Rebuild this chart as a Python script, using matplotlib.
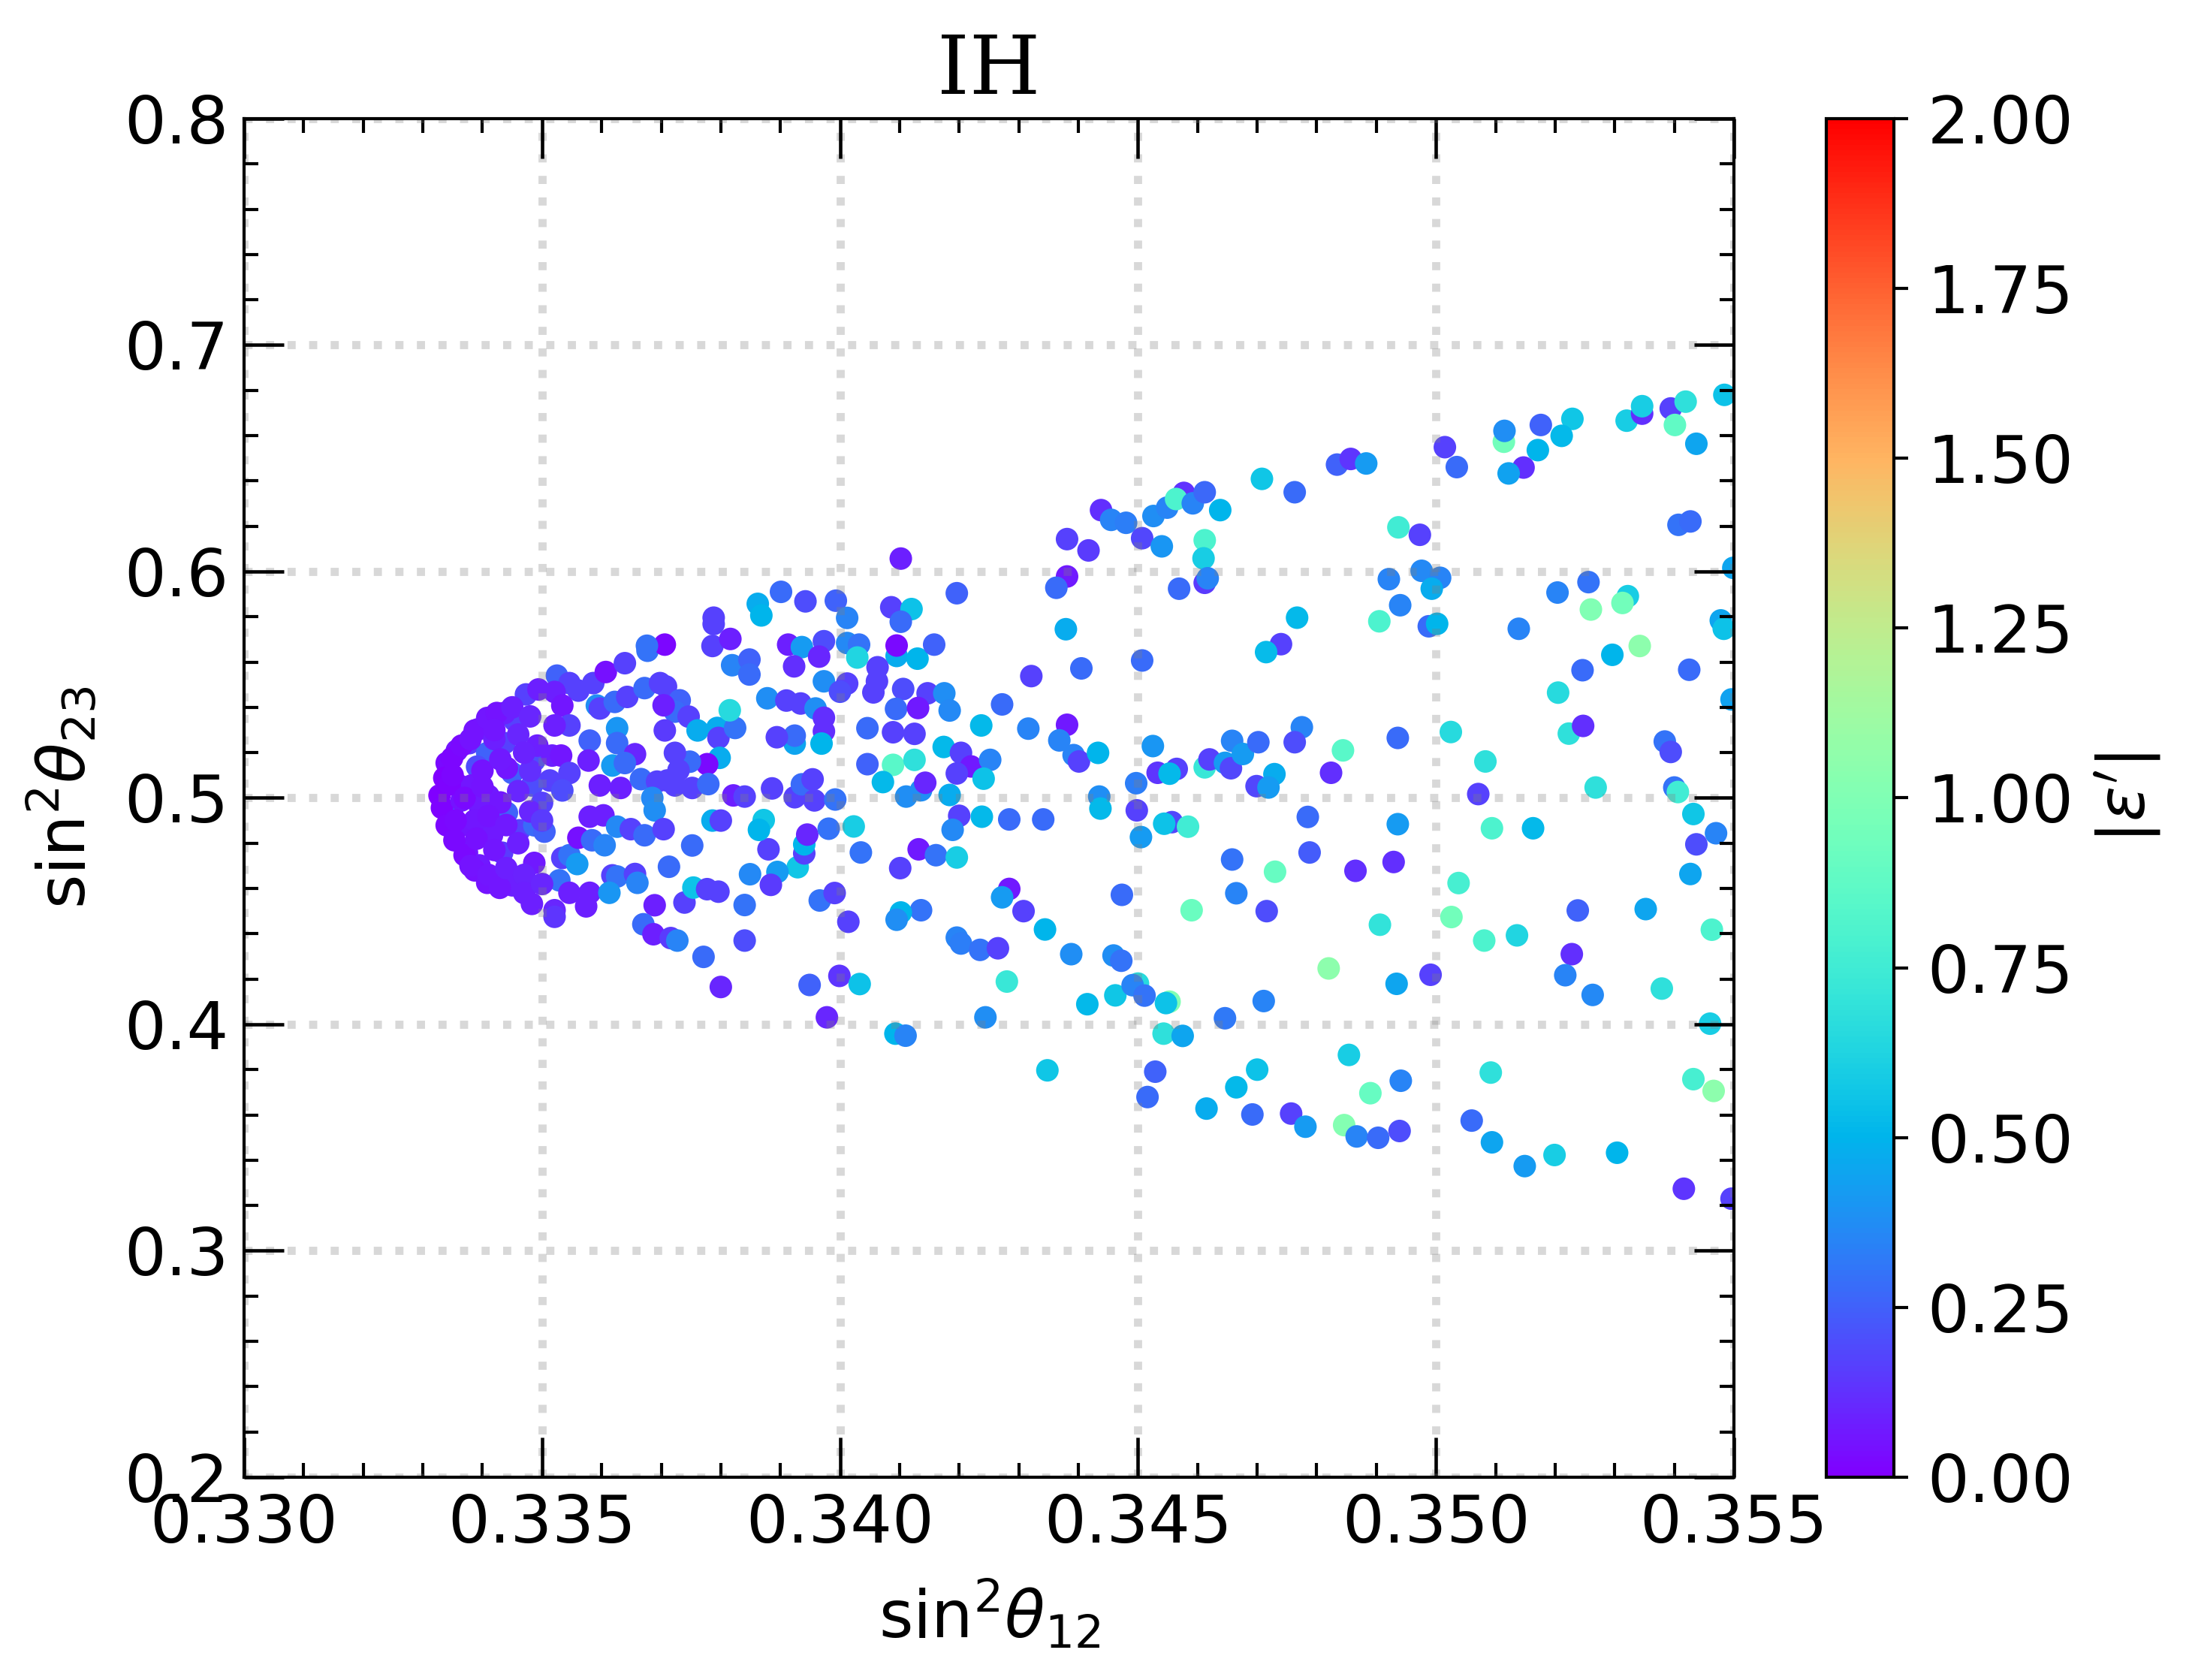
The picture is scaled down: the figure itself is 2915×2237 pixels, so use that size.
import matplotlib
matplotlib.use("Agg")
import matplotlib.pyplot as plt
from matplotlib.ticker import MultipleLocator, FormatStrFormatter

# (sin^2 theta12, sin^2 theta23, |eps'|), grouped by region

# dense cluster near the vertex
cluster = [
    (0.33525, 0.5540, 0.25), (0.33546, 0.5507, 0.17), (0.33586, 0.5507, 0.17), (0.33607, 0.5556, 0.04),
    (0.33639, 0.5595, 0.17), (0.33677, 0.5650, 0.30), (0.33473, 0.5457, 0.17), (0.33494, 0.5479, 0.08),
    (0.33521, 0.5468, 0.08), (0.33561, 0.5474, 0.17), (0.33592, 0.5408, 0.38), (0.33597, 0.5395, 0.17),
    (0.33622, 0.5424, 0.28), (0.33643, 0.5446, 0.17), (0.33672, 0.5485, 0.28), (0.33698, 0.5507, 0.17),
    (0.33534, 0.5408, 0.06), (0.33546, 0.5320, 0.17), (0.33521, 0.5320, 0.08), (0.33454, 0.5342, 0.17),
    (0.33420, 0.5342, 0.07), (0.33437, 0.5375, 0.08), (0.33393, 0.5303, 0.08), (0.33378, 0.5242, 0.15),
    (0.33357, 0.5209, 0.06), (0.33340, 0.5154, 0.03), (0.33336, 0.5088, 0.00), (0.33408, 0.5198, 0.25),
    (0.33391, 0.5138, 0.20), (0.33437, 0.5242, 0.17), (0.33450, 0.5110, 0.25), (0.33441, 0.5132, 0.06),
    (0.33487, 0.5165, 0.20), (0.33492, 0.5231, 0.08), (0.33517, 0.5187, 0.08), (0.33532, 0.5187, 0.06),
    (0.33580, 0.5253, 0.25), (0.33626, 0.5308, 0.40), (0.33626, 0.5242, 0.28), (0.33578, 0.5165, 0.08),
    (0.33618, 0.5143, 0.42), (0.33656, 0.5193, 0.10), (0.33639, 0.5154, 0.28), (0.33546, 0.5110, 0.17),
    (0.33513, 0.5077, 0.17), (0.33534, 0.5033, 0.20), (0.33483, 0.5055, 0.20), (0.33500, 0.4978, 0.17),
    (0.33597, 0.5055, 0.08), (0.33632, 0.5044, 0.08), (0.33666, 0.5083, 0.28), (0.33693, 0.5072, 0.17),
    (0.33685, 0.5000, 0.36), (0.33689, 0.4945, 0.38), (0.33349, 0.4945, 0.20), (0.33395, 0.4967, 0.07),
    (0.33441, 0.4934, 0.25), (0.33462, 0.4857, 0.17), (0.33487, 0.4879, 0.28), (0.33504, 0.4851, 0.25),
    (0.33366, 0.4879, 0.05), (0.33395, 0.4879, 0.06), (0.33416, 0.4835, 0.07), (0.33374, 0.4758, 0.06),
    (0.33395, 0.4702, 0.07), (0.33433, 0.4758, 0.15), (0.33424, 0.4636, 0.07), (0.33450, 0.4614, 0.08),
    (0.33487, 0.4713, 0.07), (0.33483, 0.4532, 0.08), (0.33521, 0.4504, 0.10), (0.33534, 0.4735, 0.17),
    (0.33546, 0.4747, 0.30), (0.33559, 0.4708, 0.42), (0.33529, 0.4636, 0.30), (0.33561, 0.4824, 0.04),
    (0.33580, 0.4917, 0.08), (0.33603, 0.4923, 0.08), (0.33584, 0.4813, 0.28), (0.33605, 0.4791, 0.35),
    (0.33626, 0.4873, 0.36), (0.33649, 0.4862, 0.17), (0.33672, 0.4835, 0.28), (0.33546, 0.4581, 0.08),
    (0.33580, 0.4581, 0.08), (0.33574, 0.4521, 0.08), (0.33618, 0.4658, 0.17), (0.33626, 0.4653, 0.30),
    (0.33656, 0.4664, 0.17), (0.33660, 0.4625, 0.35), (0.33613, 0.4581, 0.40), (0.33689, 0.4526, 0.08),
    (0.33328, 0.5011, 0.00), (0.33332, 0.4956, 0.01), (0.33340, 0.4879, 0.02), (0.33353, 0.4813, 0.03),
    (0.33370, 0.4747, 0.03), (0.33387, 0.4680, 0.04), (0.33408, 0.4625, 0.05), (0.33429, 0.4603, 0.06),
    (0.33349, 0.5176, 0.02), (0.33365, 0.5231, 0.03), (0.33387, 0.5298, 0.05), (0.33408, 0.5353, 0.06),
    (0.33424, 0.5375, 0.05), (0.33361, 0.5055, 0.04), (0.33365, 0.4989, 0.05), (0.33382, 0.5055, 0.06),
    (0.33387, 0.4901, 0.06), (0.33345, 0.5060, 0.01), (0.33410, 0.5010, 0.07), (0.33420, 0.5260, 0.08),
    (0.33370, 0.5000, 0.03), (0.33400, 0.5050, 0.05), (0.33430, 0.4980, 0.06), (0.33460, 0.5030, 0.10),
    (0.33410, 0.4920, 0.05), (0.33440, 0.4880, 0.07), (0.33390, 0.4820, 0.04), (0.33420, 0.4770, 0.06),
    (0.33460, 0.4800, 0.08), (0.33400, 0.5120, 0.05), (0.33430, 0.5170, 0.07), (0.33460, 0.5280, 0.10),
    (0.33480, 0.5120, 0.12), (0.33480, 0.4940, 0.10), (0.33380, 0.4700, 0.05), (0.33410, 0.4660, 0.06),
    (0.33440, 0.4690, 0.08), (0.33470, 0.4660, 0.09), (0.33470, 0.4580, 0.08), (0.33500, 0.4620, 0.10),
    (0.33380, 0.5260, 0.05), (0.33420, 0.5300, 0.06), (0.33450, 0.5400, 0.08), (0.33480, 0.5360, 0.10),
    (0.33500, 0.4900, 0.15), (0.33350, 0.5100, 0.02), (0.33355, 0.4900, 0.03), (0.33470, 0.5200, 0.09),
]

# outer part of the cluster, 0.337 < s12 < 0.3385
cluster_edge = [
    (0.33706, 0.5677, 0.02), (0.33676, 0.5672, 0.30), (0.33788, 0.5796, 0.17), (0.33788, 0.5768, 0.17),
    (0.33786, 0.5671, 0.17), (0.33816, 0.5702, 0.08), (0.33819, 0.5586, 0.35), (0.33848, 0.5611, 0.25),
    (0.33848, 0.5545, 0.28), (0.33708, 0.5492, 0.17), (0.33731, 0.5431, 0.25), (0.33723, 0.5381, 0.28),
    (0.33746, 0.5359, 0.17), (0.33704, 0.5409, 0.08), (0.33706, 0.5298, 0.15), (0.33761, 0.5298, 0.47),
    (0.33794, 0.5309, 0.47), (0.33796, 0.5265, 0.17), (0.33824, 0.5309, 0.30), (0.33815, 0.5387, 0.65),
    (0.33798, 0.5177, 0.47), (0.33777, 0.5149, 0.03), (0.33748, 0.5160, 0.28), (0.33729, 0.5122, 0.17),
    (0.33723, 0.5199, 0.17), (0.33710, 0.5077, 0.17), (0.33723, 0.5055, 0.17), (0.33752, 0.5044, 0.17),
    (0.33779, 0.5061, 0.28), (0.33704, 0.4862, 0.17), (0.33752, 0.4790, 0.28), (0.33713, 0.4696, 0.28),
    (0.33786, 0.4900, 0.47), (0.33800, 0.4900, 0.17), (0.33521, 0.4475, 0.14), (0.33670, 0.4442, 0.28),
    (0.33687, 0.4398, 0.08), (0.33716, 0.4381, 0.15), (0.33727, 0.4370, 0.35), (0.33739, 0.4538, 0.17),
    (0.33754, 0.4604, 0.55), (0.33777, 0.4597, 0.17), (0.33796, 0.4586, 0.17), (0.33771, 0.4298, 0.28),
    (0.33840, 0.4370, 0.20), (0.33840, 0.4527, 0.30), (0.33849, 0.4663, 0.36), (0.33821, 0.5011, 0.08),
    (0.33840, 0.5006, 0.17), (0.33800, 0.4165, 0.10),
]

# middle band, 0.3385 < s12 < 0.345
middle = [
    (0.34102, 0.6057, 0.08), (0.33901, 0.5910, 0.28), (0.33942, 0.5868, 0.20), (0.33993, 0.5871, 0.25),
    (0.34012, 0.5795, 0.35), (0.33862, 0.5857, 0.47), (0.33868, 0.5806, 0.50), (0.34196, 0.5904, 0.25),
    (0.34086, 0.5842, 0.17), (0.34120, 0.5834, 0.55), (0.34102, 0.5778, 0.28), (0.33913, 0.5677, 0.08),
    (0.33936, 0.5666, 0.42), (0.33973, 0.5692, 0.20), (0.33965, 0.5624, 0.10), (0.33923, 0.5581, 0.12),
    (0.34012, 0.5684, 0.36), (0.34032, 0.5677, 0.30), (0.34029, 0.5620, 0.63), (0.34095, 0.5627, 0.47),
    (0.34095, 0.5673, 0.03), (0.34130, 0.5615, 0.50), (0.34158, 0.5677, 0.25), (0.34063, 0.5577, 0.17),
    (0.34062, 0.5515, 0.17), (0.34056, 0.5466, 0.17), (0.33973, 0.5515, 0.38), (0.34012, 0.5505, 0.17),
    (0.34000, 0.5469, 0.20), (0.34106, 0.5481, 0.20), (0.34147, 0.5462, 0.17), (0.34175, 0.5462, 0.38),
    (0.33878, 0.5440, 0.38), (0.33910, 0.5430, 0.17), (0.33934, 0.5417, 0.17), (0.33959, 0.5395, 0.38),
    (0.33973, 0.5354, 0.12), (0.33973, 0.5294, 0.12), (0.33969, 0.5240, 0.50), (0.33924, 0.5240, 0.45),
    (0.33924, 0.5275, 0.28), (0.33894, 0.5268, 0.17), (0.34094, 0.5393, 0.28), (0.34131, 0.5397, 0.07),
    (0.34184, 0.5386, 0.36), (0.34046, 0.5308, 0.28), (0.34089, 0.5290, 0.17), (0.34125, 0.5283, 0.17),
    (0.34272, 0.5413, 0.28), (0.34321, 0.5538, 0.17), (0.34316, 0.5306, 0.35), (0.34237, 0.5320, 0.52),
    (0.34381, 0.5978, 0.07), (0.34363, 0.5928, 0.28), (0.34379, 0.5745, 0.47), (0.34405, 0.5572, 0.28),
    (0.34381, 0.6143, 0.17), (0.34417, 0.6093, 0.15), (0.34381, 0.5323, 0.07), (0.34368, 0.5254, 0.35),
    (0.34392, 0.5189, 0.35), (0.34401, 0.5161, 0.17), (0.34433, 0.5199, 0.50), (0.34435, 0.5006, 0.38),
    (0.34437, 0.4953, 0.52), (0.34473, 0.4572, 0.28), (0.34388, 0.4310, 0.38), (0.34459, 0.4304, 0.38),
    (0.34472, 0.4281, 0.30), (0.34462, 0.4128, 0.57), (0.34244, 0.4031, 0.38), (0.33978, 0.4031, 0.10),
    (0.33949, 0.4174, 0.25), (0.33999, 0.4214, 0.14), (0.34033, 0.4178, 0.55), (0.34093, 0.3959, 0.50),
    (0.34110, 0.3950, 0.35), (0.34415, 0.4089, 0.52), (0.34280, 0.4189, 0.72), (0.34308, 0.4500, 0.17),
    (0.34284, 0.4598, 0.07), (0.34272, 0.4561, 0.42), (0.34344, 0.4419, 0.50), (0.34196, 0.4383, 0.35),
    (0.34203, 0.4357, 0.33), (0.34235, 0.4329, 0.30), (0.34265, 0.4336, 0.17), (0.34136, 0.4504, 0.30),
    (0.34102, 0.4494, 0.50), (0.34095, 0.4462, 0.38), (0.34101, 0.4690, 0.17), (0.34132, 0.4773, 0.07),
    (0.34161, 0.4747, 0.30), (0.34196, 0.4737, 0.60), (0.34035, 0.4759, 0.30), (0.34014, 0.4453, 0.17),
    (0.33966, 0.4547, 0.30), (0.33991, 0.4580, 0.17), (0.33929, 0.4694, 0.57), (0.33895, 0.4673, 0.42),
    (0.33884, 0.4616, 0.15), (0.33880, 0.4773, 0.17), (0.33940, 0.4755, 0.17), (0.33940, 0.4795, 0.50),
    (0.33945, 0.4838, 0.10), (0.33981, 0.4864, 0.30), (0.34023, 0.4874, 0.60), (0.33872, 0.4902, 0.57),
    (0.33864, 0.4859, 0.50), (0.33886, 0.5042, 0.17), (0.33924, 0.5003, 0.17), (0.33936, 0.5060, 0.28),
    (0.33954, 0.5082, 0.17), (0.33957, 0.4989, 0.17), (0.33992, 0.4993, 0.30), (0.34046, 0.5149, 0.25),
    (0.34089, 0.5146, 0.85), (0.34125, 0.5168, 0.68), (0.34072, 0.5070, 0.52), (0.34111, 0.5006, 0.38),
    (0.34136, 0.5034, 0.38), (0.34143, 0.5067, 0.10), (0.34174, 0.5225, 0.52), (0.34203, 0.5199, 0.17),
    (0.34220, 0.5139, 0.07), (0.34196, 0.5108, 0.17), (0.34252, 0.5168, 0.35), (0.34241, 0.5085, 0.55),
    (0.34184, 0.5013, 0.47), (0.34200, 0.4921, 0.17), (0.34189, 0.4859, 0.36), (0.34238, 0.4917, 0.52),
    (0.34284, 0.4905, 0.28), (0.34341, 0.4905, 0.28), (0.34438, 0.6271, 0.12), (0.34455, 0.6228, 0.35),
    (0.34480, 0.6215, 0.33), (0.34348, 0.3797, 0.57),
]

# right part, upper half
right_upper = [
    (0.34507, 0.6147, 0.18), (0.34526, 0.6245, 0.38), (0.34540, 0.6111, 0.40), (0.34549, 0.6282, 0.35),
    (0.34577, 0.6347, 0.13), (0.34564, 0.6320, 0.80), (0.34592, 0.6301, 0.35), (0.34612, 0.6350, 0.27),
    (0.34638, 0.6271, 0.50), (0.34612, 0.6138, 0.80), (0.34610, 0.6058, 0.60), (0.34612, 0.5950, 0.15),
    (0.34617, 0.5970, 0.35), (0.34569, 0.5924, 0.28), (0.34708, 0.6409, 0.57), (0.34763, 0.6350, 0.28),
    (0.34834, 0.6472, 0.25), (0.34857, 0.6497, 0.14), (0.34883, 0.6477, 0.42), (0.34937, 0.6195, 0.75),
    (0.34973, 0.6162, 0.17), (0.34921, 0.5966, 0.35), (0.34976, 0.6003, 0.36), (0.35007, 0.5972, 0.35),
    (0.34993, 0.5924, 0.47), (0.34940, 0.5851, 0.35), (0.34905, 0.5780, 0.80), (0.34988, 0.5758, 0.28),
    (0.35002, 0.5769, 0.50), (0.34767, 0.5796, 0.52), (0.34740, 0.5679, 0.17), (0.34715, 0.5644, 0.53),
    (0.34507, 0.5607, 0.28), (0.34525, 0.5229, 0.40), (0.34533, 0.5111, 0.14), (0.34565, 0.5128, 0.17),
    (0.34553, 0.5107, 0.52), (0.34612, 0.5135, 0.72), (0.34620, 0.5170, 0.17), (0.34646, 0.5155, 0.42),
    (0.34656, 0.5131, 0.18), (0.34658, 0.5252, 0.35), (0.34676, 0.5194, 0.42), (0.34702, 0.5246, 0.28),
    (0.34729, 0.5105, 0.47), (0.34699, 0.5052, 0.18), (0.34719, 0.5046, 0.42), (0.34775, 0.5312, 0.35),
    (0.34763, 0.5246, 0.20), (0.34844, 0.5210, 0.85), (0.34824, 0.5111, 0.12), (0.34936, 0.5265, 0.28),
    (0.34497, 0.5065, 0.33), (0.35015, 0.6549, 0.17), (0.35035, 0.6461, 0.28), (0.35114, 0.6573, 0.95),
    (0.35115, 0.6621, 0.38), (0.35176, 0.6647, 0.25), (0.35171, 0.6536, 0.50), (0.35147, 0.6459, 0.12),
    (0.35122, 0.6433, 0.44), (0.35229, 0.6674, 0.57), (0.35211, 0.6599, 0.52), (0.35320, 0.6666, 0.60),
    (0.35346, 0.6697, 0.12), (0.35346, 0.6730, 0.60), (0.35394, 0.6720, 0.17), (0.35419, 0.6750, 0.68),
    (0.35401, 0.6647, 0.88), (0.35437, 0.6564, 0.45), (0.35484, 0.6780, 0.55), (0.35407, 0.6206, 0.30),
    (0.35427, 0.6221, 0.28), (0.35499, 0.6016, 0.45), (0.35204, 0.5907, 0.35), (0.35256, 0.5953, 0.30),
    (0.35322, 0.5891, 0.60), (0.35313, 0.5861, 0.95), (0.35260, 0.5832, 1.00), (0.35139, 0.5747, 0.35),
    (0.35342, 0.5671, 1.05), (0.35296, 0.5632, 0.50), (0.35246, 0.5564, 0.28), (0.35425, 0.5566, 0.28),
    (0.35478, 0.5784, 0.45), (0.35483, 0.5747, 0.55), (0.35496, 0.5435, 0.44), (0.35205, 0.5465, 0.65),
    (0.35223, 0.5284, 0.68), (0.35247, 0.5318, 0.12), (0.35025, 0.5291, 0.65), (0.35083, 0.5161, 0.68),
    (0.35071, 0.5017, 0.17), (0.35268, 0.5046, 0.68), (0.35384, 0.5249, 0.30), (0.35394, 0.5203, 0.20),
    (0.35400, 0.5046, 0.30), (0.35406, 0.5026, 0.75),
]

# right part, lower half
right_lower = [
    (0.34498, 0.4945, 0.17), (0.34557, 0.4893, 0.18), (0.34544, 0.4886, 0.55), (0.34584, 0.4873, 0.75),
    (0.34505, 0.4827, 0.42), (0.34785, 0.4916, 0.28), (0.34936, 0.4884, 0.42), (0.34658, 0.4728, 0.30),
    (0.34730, 0.4674, 0.90), (0.34788, 0.4759, 0.24), (0.34865, 0.4678, 0.12), (0.34929, 0.4717, 0.12),
    (0.34590, 0.4504, 0.92), (0.34665, 0.4579, 0.35), (0.34716, 0.4500, 0.20), (0.34906, 0.4440, 0.70),
    (0.34820, 0.4247, 1.05), (0.34934, 0.4179, 0.45), (0.34991, 0.4219, 0.17), (0.34500, 0.4180, 0.65),
    (0.34491, 0.4173, 0.35), (0.34511, 0.4127, 0.30), (0.34553, 0.4100, 1.00), (0.34547, 0.4094, 0.55),
    (0.34646, 0.4027, 0.32), (0.34711, 0.4103, 0.35), (0.34543, 0.3959, 0.68), (0.34575, 0.3949, 0.45),
    (0.34529, 0.3791, 0.25), (0.34516, 0.3679, 0.28), (0.34615, 0.3628, 0.47), (0.34665, 0.3722, 0.52),
    (0.34700, 0.3800, 0.55), (0.34692, 0.3602, 0.28), (0.34757, 0.3606, 0.17), (0.34781, 0.3548, 0.42),
    (0.34854, 0.3865, 0.60), (0.34890, 0.3696, 0.90), (0.34941, 0.3751, 0.35), (0.34846, 0.3555, 1.02),
    (0.34867, 0.3505, 0.35), (0.34903, 0.3499, 0.28), (0.34939, 0.3529, 0.20), (0.35094, 0.4866, 0.80),
    (0.35163, 0.4866, 0.52), (0.35038, 0.4624, 0.78), (0.35026, 0.4474, 0.95), (0.35081, 0.4370, 0.80),
    (0.35136, 0.4393, 0.63), (0.35238, 0.4503, 0.25), (0.35352, 0.4509, 0.45), (0.35228, 0.4310, 0.12),
    (0.35217, 0.4217, 0.35), (0.35263, 0.4130, 0.36), (0.35379, 0.4158, 0.68), (0.35432, 0.4929, 0.57),
    (0.35470, 0.4844, 0.35), (0.35437, 0.4795, 0.20), (0.35427, 0.4664, 0.45), (0.35463, 0.4418, 0.80),
    (0.35460, 0.4003, 0.60), (0.35092, 0.3787, 0.68), (0.35432, 0.3758, 0.78), (0.35466, 0.3706, 1.05),
    (0.35060, 0.3575, 0.28), (0.35094, 0.3479, 0.45), (0.35149, 0.3374, 0.42), (0.35199, 0.3423, 0.60),
    (0.35304, 0.3433, 0.50), (0.35416, 0.3274, 0.14), (0.35496, 0.3230, 0.17),
]

xticks = [0.330, 0.335, 0.340, 0.345, 0.350, 0.355]
yticks = [0.2, 0.3, 0.4, 0.5, 0.6, 0.7, 0.8]
cticks = [0.0, 0.25, 0.5, 0.75, 1.0, 1.25, 1.5, 1.75, 2.0]

pts = cluster + cluster_edge + middle + right_upper + right_lower
s12 = [p[0] for p in pts]
s23 = [p[1] for p in pts]
eps = [p[2] for p in pts]

plt.rcParams['font.family'] = 'DejaVu Sans'
plt.rcParams['mathtext.fontset'] = 'dejavusans'

fig = plt.figure(figsize=(2915 / 300, 2237 / 300), dpi=300)
ax = fig.add_axes([0.1115, 0.1207, 0.6806, 0.8087])
cax = fig.add_axes([0.8343, 0.1207, 0.0309, 0.8087])

sc = ax.scatter(s12, s23, c=eps, cmap='rainbow', vmin=0, vmax=2, s=52, linewidths=0)

ax.set_xlim(0.330, 0.355)
ax.set_ylim(0.2, 0.8)
ax.set_xticks(xticks)
ax.set_yticks(yticks)
ax.xaxis.set_major_formatter(FormatStrFormatter('%.3f'))
ax.yaxis.set_major_formatter(FormatStrFormatter('%.1f'))
ax.xaxis.set_minor_locator(MultipleLocator(0.001))
ax.yaxis.set_minor_locator(MultipleLocator(0.02))
ax.tick_params(which='both', direction='in', top=True, right=True, labelsize=21)
ax.tick_params(which='major', length=12.7, width=1.1, pad=5)
ax.tick_params(which='minor', length=4.6, width=1.0)
for sp in ax.spines.values():
    sp.set_linewidth(1.0)
ax.grid(True, which='major', linestyle=':', linewidth=2.6, color='gray', alpha=0.3)

ax.set_xlabel(r'$\mathrm{sin}^2\theta_{12}$', fontsize=21, labelpad=7)
ax.set_ylabel(r'$\mathrm{sin}^2\theta_{23}$', fontsize=21, labelpad=8)
ax.set_title('IH', fontsize=26, family='DejaVu Serif', pad=8)

cb = fig.colorbar(sc, cax=cax, ticks=cticks)
cb.ax.yaxis.set_major_formatter(FormatStrFormatter('%.2f'))
cb.ax.tick_params(labelsize=21, length=4.6, width=1.0, pad=6)
cb.outline.set_linewidth(1.0)
cb.set_label(r"$|\epsilon'|$", fontsize=21, labelpad=6)

fig.savefig('out.png', dpi=300)
